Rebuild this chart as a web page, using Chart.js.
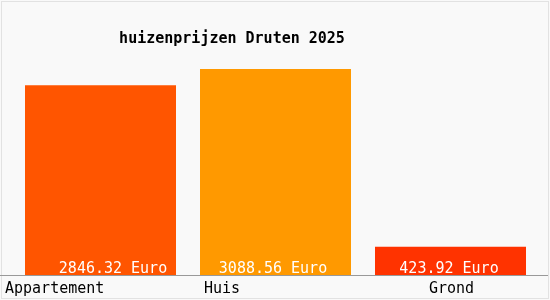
<!DOCTYPE html>
<html>
<head>
<meta charset="utf-8">
<script src="https://cdn.jsdelivr.net/npm/chart.js@4/dist/chart.umd.min.js"></script>
<style>
html,body{margin:0;padding:0;background:#f9f9f9;}
#wrap{width:550px;height:300px;position:relative;}
</style>
</head>
<body>
<div id="wrap"><canvas id="c" width="550" height="300"></canvas></div>
<script>
const titleText = "huizenprijzen Druten 2025";
const categories = ["Appartement", "Huis", "Grond"];
const values = [2846.32, 3088.56, 423.92];
const valueLabels = ["2846.32 Euro", "3088.56 Euro", "423.92 Euro"];
const barColors = ["#ff5500", "#ff9900", "#ff3300"];

const FONT = '"DejaVu Sans Mono", monospace';
const catLabelShift = [-95.5, -71.5, -21.5];
const valLabelShift = [12.5, -2.5, -1.5];

const decor = {
  id: 'decor',
  beforeDraw(chart) {
    const ctx = chart.ctx;
    ctx.save();
    ctx.fillStyle = '#f9f9f9';
    ctx.fillRect(0, 0, chart.width, chart.height);
    ctx.strokeStyle = '#e2e2e2';
    ctx.lineWidth = 1;
    ctx.strokeRect(1.5, 1.5, chart.width - 3, chart.height - 3);
    ctx.restore();
  },
  afterDatasetsDraw(chart) {
    const ctx = chart.ctx;
    const xs = chart.scales.x;
    const area = chart.chartArea;
    ctx.save();
    // axis line
    ctx.strokeStyle = '#999999';
    ctx.lineWidth = 1;
    ctx.beginPath();
    ctx.moveTo(0, area.bottom + 0.5);
    ctx.lineTo(548, area.bottom + 0.5);
    ctx.stroke();
    // value labels
    ctx.font = '15px ' + FONT;
    ctx.fillStyle = '#ffffff';
    ctx.textAlign = 'center';
    ctx.textBaseline = 'alphabetic';
    const meta = chart.getDatasetMeta(0);
    meta.data.forEach((bar, i) => {
      ctx.fillText(valueLabels[i], bar.x + valLabelShift[i], area.bottom - 2);
    });
    // category labels
    ctx.fillStyle = '#000000';
    ctx.textAlign = 'left';
    categories.forEach((c, i) => {
      ctx.fillText(c, xs.getPixelForValue(i) + catLabelShift[i], area.bottom + 18);
    });
    // title
    ctx.font = 'bold 15px ' + FONT;
    ctx.textAlign = 'center';
    ctx.fillText(titleText, 232, 43);
    ctx.restore();
  }
};

new Chart(document.getElementById('c'), {
  type: 'bar',
  data: {
    labels: categories,
    datasets: [{
      data: values,
      backgroundColor: barColors,
      borderWidth: 0,
      barPercentage: 151 / 175,
      categoryPercentage: 1
    }]
  },
  options: {
    responsive: false,
    animation: false,
    layout: { padding: { left: 13, right: 12, top: 69, bottom: 25 } },
    plugins: { legend: { display: false }, tooltip: { enabled: false }, title: { display: false } },
    scales: {
      x: { display: false, offset: true },
      y: { display: false, min: 0, max: 3088.56 }
    }
  },
  plugins: [decor]
});
</script>
</body>
</html>
